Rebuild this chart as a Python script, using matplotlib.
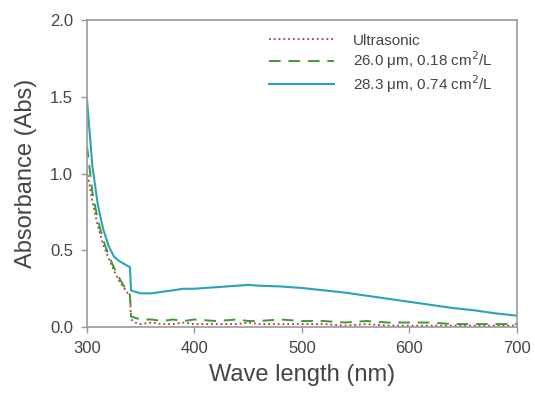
import numpy as np
import matplotlib
matplotlib.use('Agg')
import matplotlib.pyplot as plt

plt.rcParams['font.family'] = ['Liberation Sans', 'DejaVu Sans']

# wavelength (nm) and absorbance
wl = [300, 305, 310, 315, 320, 325, 330, 335, 340, 341, 345, 350, 360, 370, 380, 390,
      400, 420, 440, 450, 460, 480, 500, 520, 540, 560, 580, 600, 620, 640, 660, 680, 700]

ultrasonic = [1.02, 0.82, 0.66, 0.54, 0.45, 0.37, 0.30, 0.25, 0.20, 0.05, 0.03, 0.02, 0.03, 0.02,
              0.02, 0.03, 0.02, 0.02, 0.02, 0.03, 0.02, 0.02, 0.02, 0.02, 0.01, 0.02, 0.01,
              0.01, 0.01, 0.01, 0.01, 0.01, 0.01]
p26 = [1.18, 0.88, 0.70, 0.57, 0.47, 0.39, 0.32, 0.26, 0.21, 0.07, 0.06, 0.05, 0.05, 0.04,
       0.05, 0.04, 0.05, 0.04, 0.05, 0.04, 0.04, 0.05, 0.04, 0.04, 0.03, 0.04, 0.03,
       0.03, 0.03, 0.02, 0.02, 0.02, 0.02]
p28 = [1.48, 1.05, 0.80, 0.64, 0.53, 0.46, 0.43, 0.41, 0.39, 0.24, 0.23, 0.22, 0.22, 0.23,
       0.24, 0.25, 0.25, 0.26, 0.27, 0.275, 0.27, 0.265, 0.255, 0.24, 0.225, 0.205, 0.185,
       0.165, 0.145, 0.125, 0.11, 0.09, 0.075]

labels = ['Ultrasonic', '26.0 \u03bcm, 0.18 cm$^{2}$/L', '28.3 \u03bcm, 0.74 cm$^{2}$/L']

fig = plt.figure(figsize=(5.35, 3.98), dpi=100)
ax = fig.add_axes([0.1626, 0.178, 0.8034, 0.772])

ax.plot(wl, ultrasonic, color='#b03a3a', linestyle=':', linewidth=1.3, label=labels[0])
ax.plot(wl, p26, color='#3f9a35', linestyle=(0, (6, 4)), linewidth=1.4, label=labels[1])
ax.plot(wl, p28, color='#2aa3ba', linestyle='-', linewidth=1.5, label=labels[2])

ax.set_xlim(300, 700)
ax.set_ylim(0, 2.0)
ax.set_xticks([300, 400, 500, 600, 700])
ax.set_yticks([0.0, 0.5, 1.0, 1.5, 2.0])
ax.yaxis.set_major_formatter(matplotlib.ticker.FormatStrFormatter('%.1f'))

for s in ax.spines.values():
    s.set_color('#999999')
    s.set_linewidth(1.2)
ax.tick_params(direction='out', length=4, width=1, color='#999999',
               labelsize=12, labelcolor='#444444', pad=6)

ax.set_xlabel('Wave length (nm)', fontsize=17, color='#444444', labelpad=6)
ax.set_ylabel('Absorbance (Abs)', fontsize=17, color='#444444', labelpad=9)

leg = ax.legend(loc='upper right', frameon=False, fontsize=11, handlelength=4.3,
                handletextpad=1.2, labelspacing=0.12, borderaxespad=0.5,
                bbox_to_anchor=(0.975, 1.0))
for t in leg.get_texts():
    t.set_color('#444444')

fig.savefig('out.png', dpi=100)
